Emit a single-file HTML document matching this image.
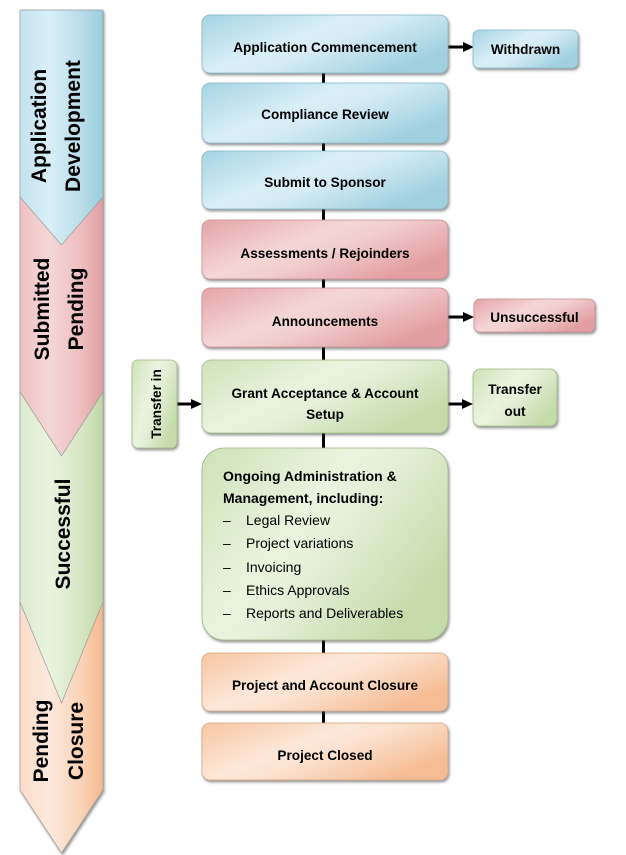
<!DOCTYPE html>
<html>
<head>
<meta charset="utf-8">
<style>
  html, body { margin:0; padding:0; background:#ffffff; }
  body { width:626px; height:855px; overflow:hidden; }
  svg { display:block; }
  .lbl { font-family:"Liberation Sans", Arial, sans-serif; font-weight:bold; font-size:13.6px; fill:#000; }
  .big { font-family:"Liberation Sans", Arial, sans-serif; font-weight:bold; font-size:21px; fill:#000; }
  .reg { font-family:"Liberation Sans", Arial, sans-serif; font-size:14px; fill:#000; }
  .bld { font-family:"Liberation Sans", Arial, sans-serif; font-weight:bold; font-size:14px; fill:#000; }
</style>
</head>
<body>
<svg width="626" height="855" viewBox="0 0 626 855" xmlns="http://www.w3.org/2000/svg">
  <defs>
    <filter id="sh" x="-10%" y="-10%" width="125%" height="130%">
      <feDropShadow dx="1.2" dy="2" stdDeviation="1.2" flood-color="#444" flood-opacity="0.55"/>
    </filter>
    <!-- box gradients -->
    <linearGradient id="gB" x1="0" y1="0" x2="1" y2="0.6">
      <stop offset="0" stop-color="#a5d4e3"/>
      <stop offset="0.45" stop-color="#d9eff6"/>
      <stop offset="0.6" stop-color="#d5ecf4"/>
      <stop offset="1" stop-color="#a0d0e0"/>
    </linearGradient>
    <linearGradient id="gP" x1="0" y1="0" x2="1" y2="0.6">
      <stop offset="0" stop-color="#e4a4a8"/>
      <stop offset="0.45" stop-color="#f5d6d7"/>
      <stop offset="0.6" stop-color="#f2cfd0"/>
      <stop offset="1" stop-color="#e29ea2"/>
    </linearGradient>
    <linearGradient id="gG" x1="0" y1="0" x2="1" y2="0.6">
      <stop offset="0" stop-color="#cfe2b8"/>
      <stop offset="0.45" stop-color="#eaf3de"/>
      <stop offset="0.6" stop-color="#e5efd8"/>
      <stop offset="1" stop-color="#c5dba9"/>
    </linearGradient>
    <linearGradient id="gO" x1="0" y1="0" x2="1" y2="0.6">
      <stop offset="0" stop-color="#f7c6a2"/>
      <stop offset="0.45" stop-color="#fde7d8"/>
      <stop offset="0.6" stop-color="#fce2d0"/>
      <stop offset="1" stop-color="#f5bd95"/>
    </linearGradient>
    <!-- chevron gradients -->
    <linearGradient id="cB" x1="0" y1="0" x2="1" y2="0">
      <stop offset="0" stop-color="#c2e3ee"/>
      <stop offset="0.35" stop-color="#d9eff6"/>
      <stop offset="0.75" stop-color="#b8dde9"/>
      <stop offset="1" stop-color="#98cddd"/>
    </linearGradient>
    <linearGradient id="cP" x1="0" y1="0" x2="1" y2="0">
      <stop offset="0" stop-color="#eec0c2"/>
      <stop offset="0.35" stop-color="#f5d7d8"/>
      <stop offset="0.75" stop-color="#edbdbf"/>
      <stop offset="1" stop-color="#e19ea2"/>
    </linearGradient>
    <linearGradient id="cG" x1="0" y1="0" x2="1" y2="0">
      <stop offset="0" stop-color="#dde9cf"/>
      <stop offset="0.35" stop-color="#eaf3e0"/>
      <stop offset="0.75" stop-color="#d6e6c3"/>
      <stop offset="1" stop-color="#c0d7a5"/>
    </linearGradient>
    <linearGradient id="cO" x1="0" y1="0" x2="1" y2="0">
      <stop offset="0" stop-color="#fbdcc7"/>
      <stop offset="0.35" stop-color="#fde9dc"/>
      <stop offset="0.75" stop-color="#f9d2b6"/>
      <stop offset="1" stop-color="#f4b88c"/>
    </linearGradient>
  </defs>

  <!-- Left chevrons (drawn bottom-up so earlier ones overlap) -->
  <g filter="url(#sh)" stroke="#9a9a9a" stroke-width="0.7">
    <polygon points="20,602 103,602 103,790 61.5,853 20,790" fill="url(#cO)"/>
    <polygon points="20,392 103,392 103,602 61.5,703 20,602" fill="url(#cG)"/>
    <polygon points="20,197 103,197 103,392 61.5,456 20,392" fill="url(#cP)"/>
    <polygon points="20,10 103,10 103,197 61.5,245 20,197" fill="url(#cB)"/>
  </g>

  <!-- Left labels -->
  <text class="big" text-anchor="middle" transform="translate(46,126) rotate(-90)">Application</text>
  <text class="big" text-anchor="middle" transform="translate(80,126) rotate(-90)">Development</text>
  <text class="big" text-anchor="middle" transform="translate(49,309) rotate(-90)">Submitted</text>
  <text class="big" text-anchor="middle" transform="translate(83,309) rotate(-90)">Pending</text>
  <text class="big" text-anchor="middle" transform="translate(70,534) rotate(-90)">Successful</text>
  <text class="big" text-anchor="middle" transform="translate(48,741) rotate(-90)">Pending</text>
  <text class="big" text-anchor="middle" transform="translate(83,741) rotate(-90)">Closure</text>

  <!-- vertical connector -->
  <rect x="322" y="70" width="3" height="655" fill="#000"/>

  <!-- arrows -->
  <g fill="#000">
    <rect x="448" y="45.5" width="17" height="3"/>
    <polygon points="463,42 474,47 463,52"/>
    <rect x="448" y="315.5" width="17" height="3"/>
    <polygon points="463,312 474,317 463,322"/>
    <rect x="177" y="402.5" width="16" height="3"/>
    <polygon points="191,399 202,404 191,409"/>
    <rect x="448" y="402.5" width="16" height="3"/>
    <polygon points="462,399 473,404 462,409"/>
  </g>

  <!-- Main boxes -->
  <g filter="url(#sh)" stroke-width="0.8">
    <rect x="202" y="15" width="246" height="58" rx="8" fill="url(#gB)" stroke="#86b6c7"/>
    <rect x="202" y="83" width="246" height="60" rx="8" fill="url(#gB)" stroke="#86b6c7"/>
    <rect x="202" y="151" width="246" height="58" rx="8" fill="url(#gB)" stroke="#86b6c7"/>
    <rect x="202" y="220" width="246" height="59" rx="8" fill="url(#gP)" stroke="#c98c90"/>
    <rect x="202" y="288" width="246" height="59" rx="8" fill="url(#gP)" stroke="#c98c90"/>
    <rect x="202" y="360" width="246" height="73" rx="9" fill="url(#gG)" stroke="#a0bb85"/>
    <rect x="202" y="448" width="246" height="192" rx="22" fill="url(#gG)" stroke="#a0bb85"/>
    <rect x="202" y="653" width="246" height="58" rx="8" fill="url(#gO)" stroke="#d9a47f"/>
    <rect x="202" y="723" width="246" height="57" rx="8" fill="url(#gO)" stroke="#d9a47f"/>

    <!-- side boxes -->
    <rect x="473" y="30" width="105" height="38" rx="6" fill="url(#gB)" stroke="#86b6c7"/>
    <rect x="474" y="299" width="121" height="33" rx="6" fill="url(#gP)" stroke="#c98c90"/>
    <rect x="473" y="369" width="84" height="57" rx="7" fill="url(#gG)" stroke="#a0bb85"/>
    <rect x="132" y="360" width="45" height="88" rx="6" fill="url(#gG)" stroke="#a0bb85"/>
  </g>

  <!-- Box labels -->
  <g class="lbl" text-anchor="middle">
    <text x="325" y="52">Application Commencement</text>
    <text x="325" y="119">Compliance Review</text>
    <text x="325" y="187">Submit to Sponsor</text>
    <text x="325" y="258">Assessments / Rejoinders</text>
    <text x="325" y="326">Announcements</text>
    <text x="325" y="398">Grant Acceptance &amp; Account</text>
    <text x="325" y="419">Setup</text>
    <text x="325" y="690">Project and Account Closure</text>
    <text x="325" y="760">Project Closed</text>
    <text x="525.5" y="54">Withdrawn</text>
    <text x="534.5" y="322">Unsuccessful</text>
    <text x="515" y="394">Transfer</text>
    <text x="515" y="416">out</text>
  </g>
  <text class="lbl" text-anchor="middle" transform="translate(161,404) rotate(-90)">Transfer in</text>

  <!-- Ongoing text -->
  <text class="bld" x="223" y="481">Ongoing Administration &amp;</text>
  <text class="bld" x="223" y="503">Management, including:</text>
  <g class="reg">
    <text x="223" y="525">–</text><text x="246" y="525">Legal Review</text>
    <text x="223" y="548">–</text><text x="246" y="548">Project variations</text>
    <text x="223" y="572">–</text><text x="246" y="572">Invoicing</text>
    <text x="223" y="595">–</text><text x="246" y="595">Ethics Approvals</text>
    <text x="223" y="618">–</text><text x="246" y="618">Reports and Deliverables</text>
  </g>
</svg>
</body>
</html>
